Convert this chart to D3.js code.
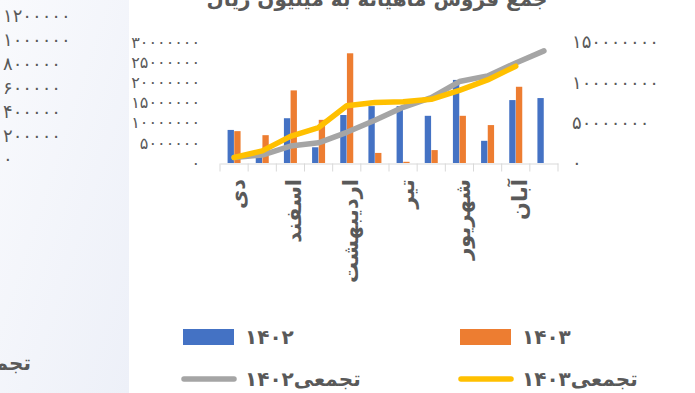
<!DOCTYPE html>
<html>
<head>
<meta charset="utf-8">
<script src="https://cdn.jsdelivr.net/npm/d3@7"></script>
<style>
  html, body { margin: 0; padding: 0; background: #ffffff; }
  svg { display: block; }
  text { font-family: "DejaVu Sans", sans-serif; fill: #595959; }
</style>
</head>
<body>
<svg id="chart" width="695" height="393"></svg>
<script>
// ---- data ----
const months = ["دی","بهمن","اسفند","فروردین","اردیبهشت","خرداد","تیر","مرداد","شهریور","مهر","آبان","آذر"];
const sales1402 = [8200000, 1800000, 11100000, 3900000, 11900000, 14100000, 14100000, 11700000, 20600000, 5500000, 15600000, 16100000];
const sales1403 = [7900000, 6900000, 18000000, 10700000, 27200000, 2500000, 300000, 3200000, 11700000, 9400000, 18900000, null];
const cum1402 = [6800000, 9900000, 21000000, 25000000, 38000000, 53000000, 69000000, 81000000, 101000000, 108000000, 124000000, 139000000];
const cum1403 = [6800000, 15000000, 33000000, 44000000, 71000000, 75000000, 76000000, 79000000, 90000000, 103000000, 120000000, null];
const leftTicks = [0, 5000000, 10000000, 15000000, 20000000, 25000000, 30000000];
const rightTicks = [0, 50000000, 100000000, 150000000];
const ghostTicks = [0, 200000, 400000, 600000, 800000, 1000000, 1200000];
const seriesNames = ["۱۴۰۲", "۱۴۰۳", "تجمعی۱۴۰۲", "تجمعی۱۴۰۳"];
const titleText = "جمع فروش ماهیانه به میلیون ریال";
const ghostText = "تجمعی۱۴۰۲";

const colors = { b1402: "#4472C4", b1403: "#ED7D31", c1402: "#A5A5A5", c1403: "#FFC000" };
const fa = n => String(n).replace(/\d/g, d => "۰۱۲۳۴۵۶۷۸۹"[d]);

const svg = d3.select("#chart");

// ---- ghost panel on the left ----
const defs = svg.append("defs");
const grad = defs.append("linearGradient").attr("id", "ghostBg").attr("x1", 0).attr("y1", 0).attr("x2", 1).attr("y2", 1);
grad.append("stop").attr("offset", "0%").attr("stop-color", "#f9fafd");
grad.append("stop").attr("offset", "100%").attr("stop-color", "#edf0f8");
svg.append("rect").attr("x", 0).attr("y", 0).attr("width", 129).attr("height", 393).attr("fill", "url(#ghostBg)");

const yGhost = d3.scaleLinear().domain([0, 1200000]).range([159, 16]);
svg.append("g").selectAll("text").data(ghostTicks).join("text")
  .attr("x", 3).attr("y", d => yGhost(d)).attr("dy", "0.36em")
  .attr("text-anchor", "start").style("font-size", "18px").style("letter-spacing", "3px")
  .text(d => fa(d));
svg.append("text").attr("x", 31).attr("y", 363).attr("dy", "0.36em")
  .attr("text-anchor", "end").style("font-size", "20px").style("font-weight", "bold")
  .text(ghostText);

// ---- main chart ----
const x = d3.scaleBand().domain(months).range([220, 558]).paddingInner(0).paddingOuter(0);
const yL = d3.scaleLinear().domain([0, 30000000]).range([163, 42]);
const yR = d3.scaleLinear().domain([0, 150000000]).range([163, 42]);
const xs = d3.scaleBand().domain(["1402", "1403"]).range([0, 13]).paddingInner(0.05);
const groupOffset = (x.bandwidth() - 13) / 2;

// title (partly cut off at the top)
svg.append("text").attr("x", 377).attr("y", 6).attr("text-anchor", "middle")
  .style("font-size", "20px").style("font-weight", "bold").text(titleText);

// bars
const barData = months.map((m, i) => ({ m, a: sales1402[i], b: sales1403[i] }));
const g = svg.append("g");
g.selectAll("rect.a").data(barData.filter(d => d.a != null)).join("rect")
  .attr("x", d => x(d.m) + groupOffset + xs("1402")).attr("width", xs.bandwidth())
  .attr("y", d => yL(d.a)).attr("height", d => yL(0) - yL(d.a)).attr("fill", colors.b1402);
g.selectAll("rect.b").data(barData.filter(d => d.b != null)).join("rect")
  .attr("x", d => x(d.m) + groupOffset + xs("1403")).attr("width", xs.bandwidth())
  .attr("y", d => yL(d.b)).attr("height", d => yL(0) - yL(d.b)).attr("fill", colors.b1403);

// x axis
const xAxis = d3.axisBottom(x).tickSize(0).tickFormat("");
const ax = svg.append("g").attr("transform", "translate(0,163.5)").call(xAxis);
ax.select(".domain").attr("stroke", "#d9d9d9").attr("stroke-width", 1);
const bounds = months.map(m => x(m)).concat([x(months[months.length - 1]) + x.bandwidth()]);
ax.selectAll("line.tk").data(bounds).join("line").attr("class", "tk")
  .attr("x1", d => d).attr("x2", d => d).attr("y1", 0).attr("y2", 8)
  .attr("stroke", "#d9d9d9").attr("stroke-width", 1);

// category labels (every other)
svg.append("g").selectAll("text").data(months.filter((m, i) => i % 2 === 0)).join("text")
  .attr("transform", d => `translate(${x(d) + x.bandwidth() / 2 + 11},179) rotate(-90)`)
  .attr("text-anchor", "end").style("font-size", "21px").style("font-weight", "bold")
  .text(d => d);

// lines
const line = ys => d3.line().defined(d => d.v != null)
  .x(d => x(d.m) + x.bandwidth() / 2).y(d => ys(d.v));
const l1 = months.map((m, i) => ({ m, v: cum1402[i] }));
const l2 = months.map((m, i) => ({ m, v: cum1403[i] }));
svg.append("path").datum(l1).attr("d", line(yR)).attr("fill", "none")
  .attr("stroke", colors.c1402).attr("stroke-width", 5.5).attr("stroke-linecap", "round").attr("stroke-linejoin", "round");
svg.append("path").datum(l2).attr("d", line(yR)).attr("fill", "none")
  .attr("stroke", colors.c1403).attr("stroke-width", 5.5).attr("stroke-linecap", "round").attr("stroke-linejoin", "round");

// left axis labels
svg.append("g").selectAll("text").data(leftTicks).join("text")
  .attr("x", 200).attr("y", d => yL(d)).attr("dy", "0.36em")
  .attr("text-anchor", "end").style("font-size", "16px").style("letter-spacing", "3.6px").text(d => fa(d));

// right axis labels
svg.append("g").selectAll("text").data(rightTicks).join("text")
  .attr("x", 572).attr("y", d => yR(d)).attr("dy", "0.36em")
  .attr("text-anchor", "start").style("font-size", "18px").style("letter-spacing", "2px").text(d => fa(d));

// legend
const leg = svg.append("g");
const items = [
  { name: seriesNames[0], color: colors.b1402, type: "rect", x: 183, y: 337 },
  { name: seriesNames[1], color: colors.b1403, type: "rect", x: 460, y: 337 },
  { name: seriesNames[2], color: colors.c1402, type: "line", x: 183, y: 379 },
  { name: seriesNames[3], color: colors.c1403, type: "line", x: 460, y: 379 }
];
items.forEach(it => {
  if (it.type === "rect") {
    leg.append("rect").attr("x", it.x).attr("y", it.y - 8).attr("width", 51).attr("height", 16).attr("fill", it.color);
  } else {
    leg.append("line").attr("x1", it.x + 1).attr("x2", it.x + 51).attr("y1", it.y).attr("y2", it.y)
      .attr("stroke", it.color).attr("stroke-width", 5.5).attr("stroke-linecap", "round");
  }
  leg.append("text").attr("x", it.x + 62).attr("y", it.y).attr("dy", "0.36em")
    .attr("text-anchor", "start").style("font-size", "20px").style("font-weight", "bold")
    .style("letter-spacing", it.type === "rect" ? "2.5px" : "0px").text(it.name);
});
</script>
</body>
</html>
